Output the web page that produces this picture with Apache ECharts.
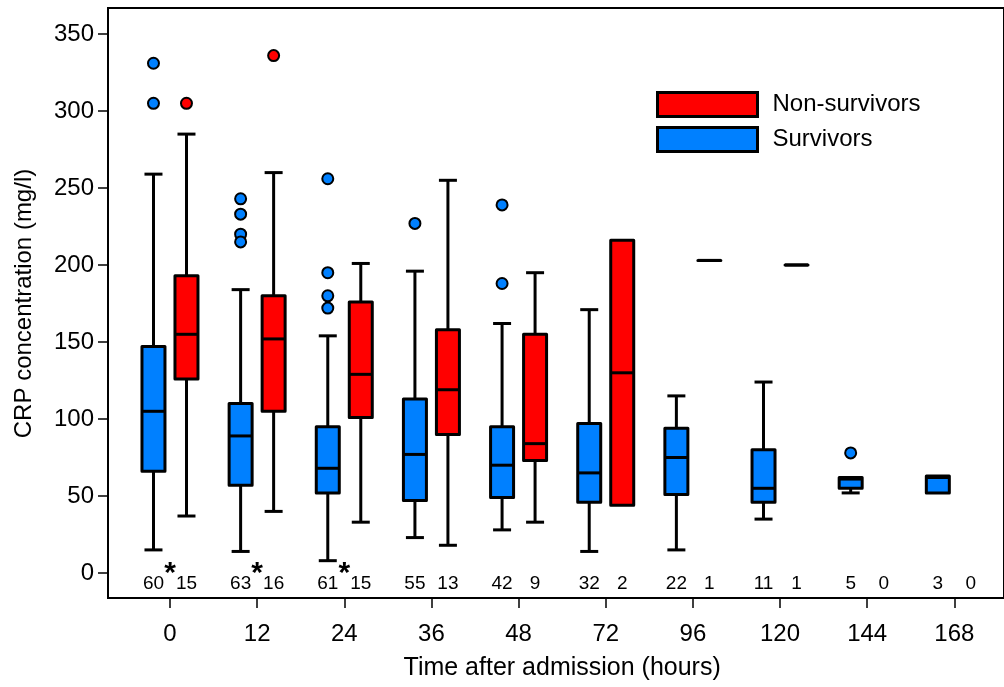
<!DOCTYPE html>
<html>
<head>
<meta charset="utf-8">
<script src="https://cdn.jsdelivr.net/npm/echarts@6/dist/echarts.min.js"></script>
<style>
html,body{margin:0;padding:0;background:#fff;}
#main{width:1004px;height:687px;}
</style>
</head>
<body>
<div id="main"></div>
<script>
// Categories (hours after admission)
const categories = ['0', '12', '24', '36', '48', '72', '96', '120', '144', '168'];
// Box values: [low whisker, Q1, median, Q3, high whisker]
const survivorsBox = [
  [15, 66, 105, 147, 259],
  [14, 57, 89, 110, 184],
  [8, 52, 68, 95, 154],
  [23, 47, 77, 113, 196],
  [28, 49, 70, 95, 162],
  [14, 46, 65, 97, 171],
  [15, 51, 75, 94, 115],
  [35, 46, 55, 80, 124],
  [52, 55, 61, 62, 62],
  [52, 52, 62, 63, 63]
];
const nonSurvivorsBox = [
  [37, 126, 155, 193, 285],
  [40, 105, 152, 180, 260],
  [33, 101, 129, 176, 201],
  [18, 90, 119, 158, 255],
  [33, 73, 84, 155, 195],
  [44, 44, 130, 216, 216],
  [203, 203, 203, 203, 203],
  [200, 200, 200, 200, 200],
  null,
  null
];
// Outliers: [category index, value]
const survivorsOutliers = [
  [0, 331], [0, 305],
  [1, 243], [1, 233], [1, 220], [1, 215],
  [2, 256], [2, 195], [2, 180], [2, 172],
  [3, 227],
  [4, 239], [4, 188],
  [8, 78]
];
const nonSurvivorsOutliers = [
  [0, 305],
  [1, 336]
];
// Sample sizes
const survivorsN = [60, 63, 61, 55, 42, 32, 22, 11, 5, 3];
const nonSurvivorsN = [15, 16, 15, 13, 9, 2, 1, 1, 0, 0];
// Significance markers
const significant = ['*', '*', '*', '', '', '', '', '', '', ''];
// Y axis tick range
const yTickMin = 0, yTickMax = 350, yTickStep = 50;

const BLUE = '#0080ff';
const RED = '#ff0000';
const OFF = 16.5;
const FONT = "'Liberation Sans', Arial, Helvetica, sans-serif";
const PX_PER_UNIT = (573 - 34) / 350;
const Y_MIN = -(598 - 573) / PX_PER_UNIT;
const Y_MAX = (573 - 8) / PX_PER_UNIT;

function boxRender(offset, color) {
  return function (params, api) {
    const idx = api.value(0);
    const lo = api.coord([idx, api.value(1)]);
    const q1 = api.coord([idx, api.value(2)]);
    const md = api.coord([idx, api.value(3)]);
    const q3 = api.coord([idx, api.value(4)]);
    const hi = api.coord([idx, api.value(5)]);
    const cx = lo[0] + offset;
    const bw = 23, cw = 18;
    const ls = {stroke: '#000', lineWidth: 3, lineCap: 'butt'};
    const children = [];
    if (hi[1] < q3[1] - 0.5) {
      children.push({type: 'line', shape: {x1: cx, y1: hi[1], x2: cx, y2: q3[1]}, style: ls});
      children.push({type: 'line', shape: {x1: cx - cw / 2, y1: hi[1], x2: cx + cw / 2, y2: hi[1]}, style: ls});
    }
    if (lo[1] > q1[1] + 0.5) {
      children.push({type: 'line', shape: {x1: cx, y1: q1[1], x2: cx, y2: lo[1]}, style: ls});
      children.push({type: 'line', shape: {x1: cx - cw / 2, y1: lo[1], x2: cx + cw / 2, y2: lo[1]}, style: ls});
    }
    children.push({type: 'rect', shape: {x: cx - bw / 2, y: q3[1], width: bw, height: q1[1] - q3[1]},
      style: {fill: color, stroke: '#000', lineWidth: 3, lineJoin: 'round'}});
    children.push({type: 'line', shape: {x1: cx - bw / 2, y1: md[1], x2: cx + bw / 2, y2: md[1]}, style: ls});
    return {type: 'group', children: children};
  };
}

function textRender(labels, offset, size, dy, weight) {
  return function (params, api) {
    const idx = api.value(0);
    const p = api.coord([idx, 0]);
    return {type: 'text', style: {text: String(labels[params.dataIndex]), x: p[0] + offset, y: p[1] + dy,
      fill: '#000', font: (weight || 'normal') + ' ' + size + 'px ' + FONT, textAlign: 'center', textVerticalAlign: 'middle'}};
  };
}

const survData = survivorsBox.map((b, i) => [i].concat(b));
const nonData = [];
nonSurvivorsBox.forEach((b, i) => { if (b) nonData.push([i].concat(b)); });
const sigIdx = [], sigLabels = [];
significant.forEach((s, i) => { if (s) { sigIdx.push([i, 0]); sigLabels.push(s); } });

const chart = echarts.init(document.getElementById('main'), null, {renderer: 'canvas'});
chart.setOption({
  animation: false,
  backgroundColor: '#fff',
  grid: [
    {left: 108, right: -20, top: 8, bottom: 89, show: true, borderColor: '#000', borderWidth: 2, backgroundColor: 'transparent'},
    {left: 126.4, right: 6.1, top: 8, bottom: 89},
    {left: 108, right: -20, top: 34, bottom: 114}
  ],
  xAxis: [
    {gridIndex: 0, type: 'value', show: false, min: 0, max: 1},
    {gridIndex: 1, type: 'category', data: categories,
      axisLine: {show: false, onZero: false},
      axisTick: {show: true, alignWithLabel: true, length: 10, lineStyle: {color: '#000', width: 1.5}},
      axisLabel: {color: '#000', fontSize: 24, fontFamily: FONT, margin: 24},
      name: 'Time after admission (hours)', nameLocation: 'middle', nameGap: 58,
      nameTextStyle: {color: '#000', fontSize: 25, fontFamily: FONT}},
    {gridIndex: 2, type: 'value', show: false, min: 0, max: 1}
  ],
  yAxis: [
    {gridIndex: 0, type: 'value', show: false, min: 0, max: 1},
    {gridIndex: 1, type: 'value', show: false, min: Y_MIN, max: Y_MAX, splitLine: {show: false}},
    {gridIndex: 2, type: 'value', min: yTickMin, max: yTickMax, interval: yTickStep,
      axisLine: {show: false},
      axisTick: {show: true, length: 10, lineStyle: {color: '#000', width: 1.5}},
      axisLabel: {color: '#000', fontSize: 24, fontFamily: FONT, margin: 14},
      splitLine: {show: false},
      name: 'CRP concentration (mg/l)', nameLocation: 'middle', nameGap: 72, nameRotate: 90,
      nameTextStyle: {color: '#000', fontSize: 24, fontFamily: FONT}}
  ],
  legend: {
    orient: 'vertical', left: 651, top: 86, itemWidth: 100, itemHeight: 24, itemGap: 8,
    icon: 'rect',
    data: [
      {name: 'Non-survivors', itemStyle: {color: RED, borderColor: '#000', borderWidth: 3}},
      {name: 'Survivors', itemStyle: {color: BLUE, borderColor: '#000', borderWidth: 3}}
    ],
    textStyle: {color: '#000', fontSize: 24, fontFamily: FONT, padding: [0, 0, 0, 10]}
  },
  series: [
    {name: 'Survivors', type: 'custom', xAxisIndex: 1, yAxisIndex: 1, data: survData,
      itemStyle: {color: BLUE}, renderItem: boxRender(-OFF, BLUE), encode: {x: 0, y: [1, 2, 3, 4, 5]}, z: 3},
    {name: 'Non-survivors', type: 'custom', xAxisIndex: 1, yAxisIndex: 1, data: nonData,
      itemStyle: {color: RED}, renderItem: boxRender(OFF, RED), encode: {x: 0, y: [1, 2, 3, 4, 5]}, z: 3},
    {name: 'Survivors', type: 'scatter', xAxisIndex: 1, yAxisIndex: 1, data: survivorsOutliers,
      symbol: 'circle', symbolSize: 11, symbolOffset: [-OFF, 0],
      itemStyle: {color: BLUE, borderColor: '#000', borderWidth: 2, opacity: 1}, z: 4},
    {name: 'Non-survivors', type: 'scatter', xAxisIndex: 1, yAxisIndex: 1, data: nonSurvivorsOutliers,
      symbol: 'circle', symbolSize: 11, symbolOffset: [OFF, 0],
      itemStyle: {color: RED, borderColor: '#000', borderWidth: 2, opacity: 1}, z: 4},
    {type: 'custom', xAxisIndex: 1, yAxisIndex: 1, silent: true, clip: false,
      data: survivorsN.map((n, i) => [i, n]), renderItem: textRender(survivorsN, -OFF, 19, 11), z: 5},
    {type: 'custom', xAxisIndex: 1, yAxisIndex: 1, silent: true, clip: false,
      data: nonSurvivorsN.map((n, i) => [i, n]), renderItem: textRender(nonSurvivorsN, OFF, 19, 11), z: 5},
    {type: 'custom', xAxisIndex: 1, yAxisIndex: 1, silent: true, clip: false,
      data: sigIdx, renderItem: textRender(sigLabels, 0, 30, 1, 'bold'), z: 5}
  ]
});
</script>
</body>
</html>
